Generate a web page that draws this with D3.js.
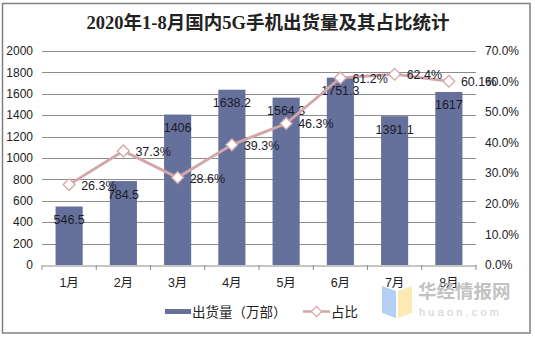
<!DOCTYPE html>
<html><head><meta charset="utf-8">
<script src="https://cdn.jsdelivr.net/npm/d3@7"></script>
<style>body{margin:0;background:#fff}svg{display:block}</style>
</head><body>
<script>
const title = "2020年1-8月国内5G手机出货量及其占比统计";
const months = ["1月","2月","3月","4月","5月","6月","7月","8月"];
const shipments = [546.5, 784.5, 1406, 1638.2, 1564.3, 1751.3, 1391.1, 1617];
const shares = [26.3, 37.3, 28.6, 39.3, 46.3, 61.2, 62.4, 60.1];
const leftTicks = [0,200,400,600,800,1000,1200,1400,1600,1800,2000];
const rightTicks = [0,10,20,30,40,50,60,70];
const seriesNames = ["出货量（万部）","占比"];

const W=535,H=338;
const m={l:42,r:476,t:51,b:265};
const barColor="#66719b", lineColor="#d3a6a8";
const font="Arial, 'Liberation Sans', 'Noto Sans CJK SC', sans-serif";

const svg=d3.select("body").append("svg").attr("width",W).attr("height",H);
svg.append("rect").attr("x",2.5).attr("y",3.5).attr("width",527.5).attr("height",329.5)
  .attr("fill","#fff").attr("stroke","#808080").attr("stroke-width",1.5);

svg.append("text").attr("x",268).attr("y",29).attr("text-anchor","middle")
  .attr("font-family","'Liberation Serif','Noto Sans CJK SC',serif").attr("font-weight","bold")
  .attr("font-size",18.5).attr("fill","#222").text(title);

const x=d3.scaleBand().domain(months).range([m.l,m.r]).paddingInner(0.5).paddingOuter(0.25);
const xc=d3.scaleBand().domain(months).range([m.l,m.r]);
const yL=d3.scaleLinear().domain([0,2000]).range([m.b,m.t]);
const yR=d3.scaleLinear().domain([0,70]).range([m.b,m.t]);

// grid
svg.append("g").selectAll("line").data(leftTicks.slice(1)).join("line")
  .attr("x1",m.l).attr("x2",m.r).attr("y1",d=>Math.round(yL(d))+0.5).attr("y2",d=>Math.round(yL(d))+0.5)
  .attr("stroke","#8c8c8c").attr("stroke-width",1);

// left axis labels
svg.append("g").selectAll("text").data(leftTicks).join("text")
  .attr("x",33).attr("y",d=>yL(d)).attr("dy","0.35em").attr("text-anchor","end")
  .attr("font-family",font).attr("font-size",12).attr("fill","#222").text(d=>d);
// right axis labels
svg.append("g").selectAll("text").data(rightTicks).join("text")
  .attr("x",485).attr("y",d=>yR(d)).attr("dy","0.35em").attr("text-anchor","start")
  .attr("font-family",font).attr("font-size",12).attr("fill","#222").text(d=>d.toFixed(1)+"%");

// bars
svg.append("g").selectAll("rect").data(shipments).join("rect")
  .attr("x",(d,i)=>x(months[i])).attr("width",x.bandwidth())
  .attr("y",d=>yL(d)).attr("height",d=>yL(0)-yL(d)).attr("fill",barColor);

// x axis
const xa=svg.append("g").attr("transform",`translate(0,${Math.round(m.b)+0.5})`)
  .call(d3.axisBottom(xc).tickSize(0).tickFormat(""));
xa.select(".domain").attr("stroke","#8c8c8c");
svg.append("g").selectAll("line").data(d3.range(months.length+1)).join("line")
  .attr("x1",i=>m.l+i*xc.step()).attr("x2",i=>m.l+i*xc.step())
  .attr("y1",m.b).attr("y2",m.b+5).attr("stroke","#8c8c8c");
svg.append("g").selectAll("text").data(months).join("text")
  .attr("x",d=>xc(d)+xc.bandwidth()/2).attr("y",287).attr("text-anchor","middle")
  .attr("font-family",font).attr("font-size",12.5).attr("fill","#222").text(d=>d);

// bar labels
svg.append("g").selectAll("text").data(shipments).join("text")
  .attr("x",(d,i)=>xc(months[i])+xc.bandwidth()/2).attr("y",d=>yL(d)+17.5).attr("text-anchor","middle")
  .attr("font-family",font).attr("font-size",12.5).attr("fill","#1a1a2a").text(d=>d);

// line
const cx=(i)=>xc(months[i])+xc.bandwidth()/2;
svg.append("path").datum(shares)
  .attr("d",d3.line().x((d,i)=>cx(i)).y(d=>yR(d)))
  .attr("fill","none").attr("stroke",lineColor).attr("stroke-width",2.8);
const diamond=d3.symbol().type(d3.symbolDiamond2||d3.symbolSquare).size(60);
svg.append("g").selectAll("rect").data(shares).join("rect")
  .attr("x",-4.2).attr("y",-4.2).attr("width",8.4).attr("height",8.4)
  .attr("transform",(d,i)=>`translate(${cx(i)},${yR(d)}) rotate(45)`)
  .attr("fill","#fff").attr("stroke",lineColor).attr("stroke-width",1.3);
svg.append("g").selectAll("text").data(shares).join("text")
  .attr("x",(d,i)=>cx(i)+12).attr("y",d=>yR(d)).attr("dy","0.4em")
  .attr("font-family",font).attr("font-size",12.5).attr("fill","#1a1a2a").text(d=>d.toFixed(1)+"%");

// legend
svg.append("rect").attr("x",165).attr("y",309).attr("width",26).attr("height",5).attr("fill",barColor);
svg.append("text").attr("x",192).attr("y",317).attr("font-family","'Noto Sans CJK SC',sans-serif")
  .attr("font-size",13.5).attr("fill","#222").text(seriesNames[0]);
svg.append("line").attr("x1",303).attr("x2",330).attr("y1",311.5).attr("y2",311.5).attr("stroke",lineColor).attr("stroke-width",2.5);
svg.append("rect").attr("x",-3.6).attr("y",-3.6).attr("width",7.2).attr("height",7.2)
  .attr("transform","translate(316.5,311.5) rotate(45)").attr("fill","#fff").attr("stroke",lineColor).attr("stroke-width",1.2);
svg.append("text").attr("x",331).attr("y",317).attr("font-family","'Noto Sans CJK SC',sans-serif")
  .attr("font-size",13.5).attr("fill","#222").text(seriesNames[1]);

// watermark
const wm=svg.append("g").attr("opacity",0.85);
wm.append("path").attr("d","M382,286 L396,291 L396,318 L382,313 Z").attr("fill","#a9c8f5");
wm.append("path").attr("d","M398,291 L412,286 L412,313 L398,318 Z").attr("fill","#fbe8a6");
wm.append("text").attr("x",418).attr("y",298).attr("font-family","'Noto Sans CJK SC',sans-serif")
  .attr("font-weight","bold").attr("font-size",18.5).attr("fill","#b8b8b8").text("华经情报网");
wm.append("text").attr("x",419).attr("y",316).attr("font-family",font)
  .attr("font-size",11).attr("letter-spacing",3.2).attr("fill","#c8c8c8").text("huaon.com");
</script>
</body></html>
